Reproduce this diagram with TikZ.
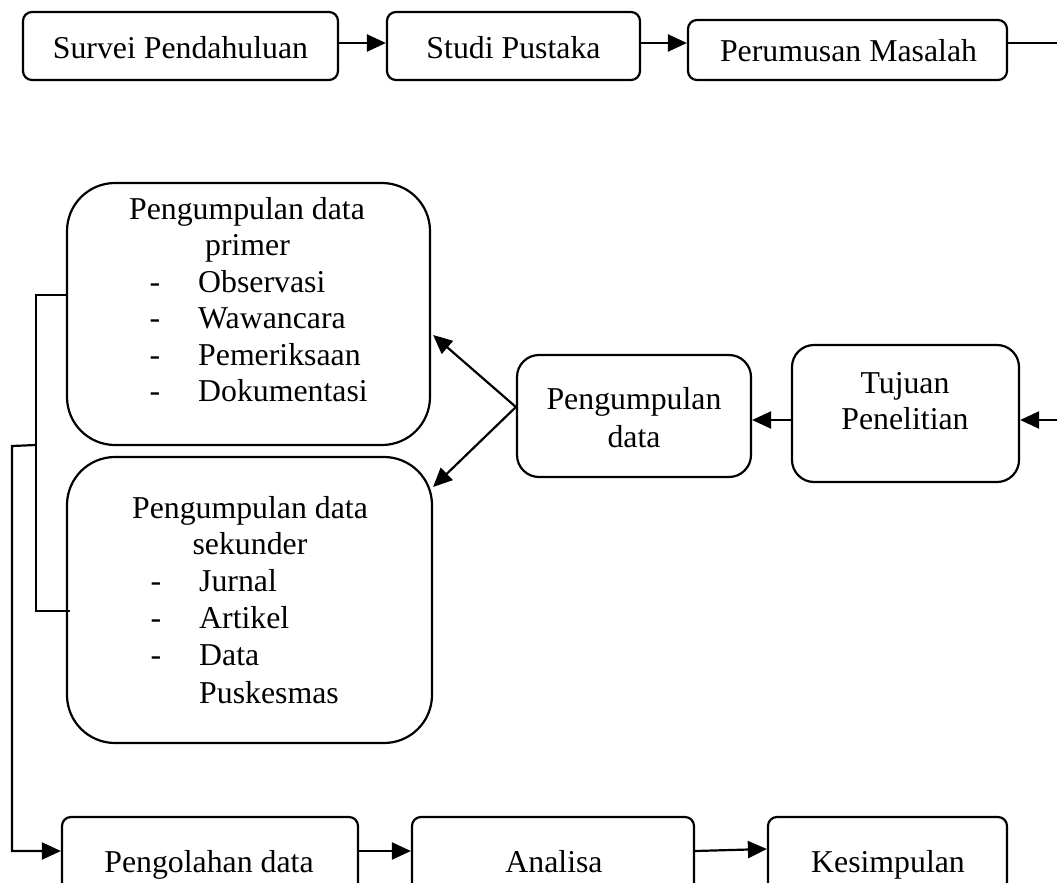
\documentclass[tikz,border=0pt]{standalone}
\usepackage{fontspec}
\setmainfont{Liberation Serif}
\usetikzlibrary{arrows.meta}
\begin{document}
\begin{tikzpicture}[x=1pt,y=-1pt,
  box/.style={draw,line width=2.2pt,inner sep=0pt,rounded corners=#1},
  box/.default=9pt,
  txt/.style={inner sep=0pt,anchor=base,font=\fontsize{31.8}{36.6}\selectfont},
  itm/.style={inner sep=0pt,anchor=base west,font=\fontsize{31.8}{36.6}\selectfont},
  dsh/.style={inner sep=0pt,anchor=base,font=\fontsize{31.8}{36.6}\selectfont},
  conn/.style={line width=2.2pt},
  arr/.style={line width=2.2pt,-{Triangle[length=19pt,width=17pt]}}]
\clip (0,0) rectangle (1057,883);
% top row
\node[box,minimum width=315pt,minimum height=68pt] (s1) at (180.5,46) {};
\node[box,minimum width=253pt,minimum height=68pt] (s2) at (513.5,46) {};
\node[box,minimum width=319pt,minimum height=60pt] (s3) at (847.5,50) {};
\node[txt] (t1) at (180.5,59) {Survei Pendahuluan};
\node[txt] (t2) at (513.5,58.5) {Studi Pustaka};
\node[txt] (t3) at (848.5,62) {Perumusan Masalah};
% middle
\node[box=48pt,minimum width=363pt,minimum height=262pt] (prim) at (248.5,314) {};
\node[box=48pt,minimum width=365pt,minimum height=286pt] (sek) at (249.5,600) {};
\node[box=22pt,minimum width=234pt,minimum height=122pt] (pd) at (634,416) {};
\node[box=22pt,minimum width=227pt,minimum height=137pt] (tuj) at (905.5,413.5) {};
% primer text
\node[txt] (p1) at (247,219.5) {Pengumpulan data};
\node[txt] (p2) at (247.5,255) {primer};
\node[dsh] (pd1) at (155,292) {-};
\node[dsh] (pd2) at (155,328.5) {-};
\node[dsh] (pd3) at (155,365) {-};
\node[dsh] (pd4) at (155,401.5) {-};
\node[itm] (pi1) at (198,292) {Observasi};
\node[itm] (pi2) at (198,328.5) {Wawancara};
\node[itm] (pi3) at (198,365) {Pemeriksaan};
\node[itm] (pi4) at (198,401.5) {Dokumentasi};
% sekunder text
\node[txt] (q1) at (250,518) {Pengumpulan data};
\node[txt] (q2) at (250,554) {sekunder};
\node[dsh] (qd1) at (156,591.5) {-};
\node[dsh] (qd2) at (156,628) {-};
\node[dsh] (qd3) at (156,665) {-};
\node[itm] (qi1) at (199,591.5) {Jurnal};
\node[itm] (qi2) at (199,628) {Artikel};
\node[itm] (qi3) at (199,665) {Data};
\node[itm] (qi4) at (199,703) {Puskesmas};
% pd / tuj text
\node[txt] (pdt1) at (634,409) {Pengumpulan};
\node[txt] (pdt2) at (634,447) {data};
\node[txt] (tjt1) at (905,393) {Tujuan};
\node[txt] (tjt2) at (905,429) {Penelitian};
% bottom row
\node[box,minimum width=296pt,minimum height=80pt] (peng) at (210,857) {};
\node[box,minimum width=282pt,minimum height=80pt] (ana) at (553,857) {};
\node[box,minimum width=239pt,minimum height=80pt] (kes) at (887.5,857) {};
\node[txt] (bt1) at (209,872) {Pengolahan data};
\node[txt] (bt2) at (554,872) {Analisa};
\node[txt] (bt3) at (888,872) {Kesimpulan};
% connectors top
\path ([yshift=3pt]s1.east) coordinate (a1);
\path ([yshift=3pt]s2.east) coordinate (a2);
\coordinate (r1) at (1057,43);
\coordinate (r2) at (1057,420);
\draw[arr] (a1) -- (a1 -| s2.west);
\draw[arr] (a2) -- (a2 -| s3.west);
\draw[conn] (s3.east |- r1) -- (r1);
\draw[arr] (r2) -- (r2 -| tuj.east);
\draw[arr] (tuj.west |- r2) -- (pd.east |- r2);
% diagonals
\path ([yshift=9pt]pd.west) coordinate (dp);
\draw[arr] (dp) -- ([yshift=-21pt,xshift=2pt]prim.east);
\draw[arr] (dp) -- ([yshift=113pt]sek.east);
% bracket
\coordinate (bt) at (36,295);
\coordinate (bb) at (36,611);
\coordinate (bm) at (36,445);
\coordinate (bl) at (12,446);
\draw[conn] (prim.west |- bt) -- (bt) -- (bb) -- ([xshift=4pt]sek.west |- bb);
\path ([yshift=6pt]peng.west) coordinate (pw);
\draw[arr] (bm) -- (bl) |- (pw);
% bottom arrows
\path ([yshift=6pt]peng.east) coordinate (b1);
\path ([yshift=6pt]ana.east) coordinate (b2);
\draw[arr] (b1) -- (b1 -| ana.west);
\draw[arr] (b2) -- ([yshift=8pt]kes.west);
\end{tikzpicture}
\end{document}
